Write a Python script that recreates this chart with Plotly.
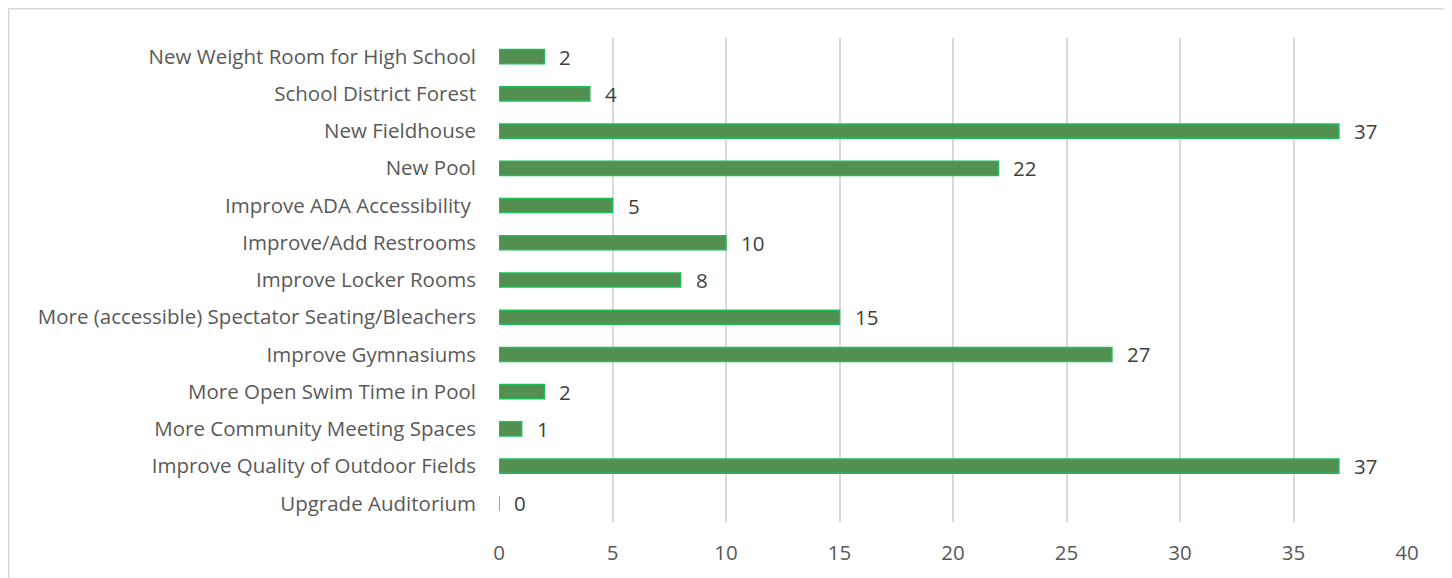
import plotly.graph_objects as go

categories = [
    "New Weight Room for High School",
    "School District Forest",
    "New Fieldhouse",
    "New Pool",
    "Improve ADA Accessibility ",
    "Improve/Add Restrooms",
    "Improve Locker Rooms",
    "More (accessible) Spectator Seating/Bleachers",
    "Improve Gymnasiums",
    "More Open Swim Time in Pool",
    "More Community Meeting Spaces",
    "Improve Quality of Outdoor Fields",
    "Upgrade Auditorium",
]
values = [2, 4, 37, 22, 5, 10, 8, 15, 27, 2, 1, 37, 0]
x_ticks = [0, 5, 10, 15, 20, 25, 30, 35, 40]

FONT = "Open Sans"
FS = 20.5
fig = go.Figure()
fig.add_trace(go.Bar(
    y=categories, x=values, orientation="h",
    marker=dict(color="#548F52", line=dict(color="#1DBE5A", width=1.5)),
    hoverinfo="x+y",
))
for c, v in zip(categories, values):
    fig.add_annotation(x=v, y=c, text=str(v), showarrow=False, xanchor="left",
                       xshift=13, font=dict(family=FONT, size=FS, color="#404040"))

# outer chart border
fig.add_shape(type="rect", xref="paper", yref="paper",
              x0=-0.5399, x1=1.0429, y0=-0.3, y1=1.0605,
              line=dict(color="#d9d9d9", width=1.5), fillcolor="rgba(0,0,0,0)", layer="below")

fig.update_layout(
    width=1444, height=570,
    margin=dict(l=491, r=45, t=30, b=56),
    paper_bgcolor="white", plot_bgcolor="white",
    bargap=0.62, showlegend=False,
    font=dict(family=FONT, size=FS, color="#595959"),
    xaxis=dict(range=[0, 40], tickvals=x_ticks, showgrid=True, gridcolor="#d9d9d9",
               gridwidth=1.5, zeroline=False, showline=False, ticklabelstandoff=16,
               tickfont=dict(family=FONT, size=FS, color="#595959")),
    yaxis=dict(autorange="reversed", showgrid=False, ticklabelstandoff=22,
               tickfont=dict(family=FONT, size=FS, color="#595959")),
)
fig.write_html("out.html")
